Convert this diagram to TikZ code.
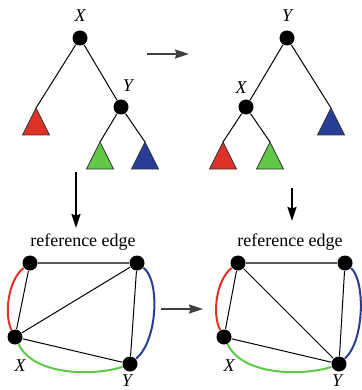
\documentclass[tikz,border=0pt]{standalone}
\usepackage{fontspec}
\setmainfont{Liberation Serif}
\usetikzlibrary{arrows.meta}
\definecolor{tred}{RGB}{222,50,38}
\definecolor{tgreen}{RGB}{96,200,72}
\definecolor{tblue}{RGB}{40,62,150}
\tikzset{
  vert/.style={circle,fill=black,inner sep=0pt,minimum size=15pt},
  lbl/.style={font=\fontsize{18}{20}\selectfont\itshape},
  subtree/.style={draw=black!80,line width=0.8pt},
  refedge/.style={draw=black!65,line width=2.2pt},
  colcurve/.style={line width=2pt},
}
\newcommand{\subtri}[2]{\filldraw[subtree,fill=#1] (#2) -- ++(-13.5,27) -- ++(27,0) -- cycle;}
\begin{document}
\begin{tikzpicture}[x=1pt,y=-1pt,line width=1pt,>={Stealth[length=14pt,width=9pt,inset=1.5pt]}]
  \useasboundingbox (0,0) rectangle (361,390);
  % tree before rotation
  \node[vert] (x1) at (80,38) {};
  \node[vert] (y1) at (121,107) {};
  \node[lbl] at (80,16) {X};
  \node[lbl] at (128,86) {Y};
  \coordinate (a1) at (36,108);
  \coordinate (b1) at (100,142);
  \coordinate (c1) at (145,142);
  \draw (x1) -- (a1);
  \draw (x1) -- (y1);
  \draw (y1) -- (b1);
  \draw (y1) -- (c1);
  \subtri{tred}{a1}
  \subtri{tgreen}{b1}
  \subtri{tblue}{c1}
  % tree after rotation
  \node[vert] (y2) at (287,38) {};
  \node[vert] (x2) at (246,107) {};
  \node[lbl] at (287,16) {Y};
  \node[lbl] at (241,88) {X};
  \coordinate (a2) at (223,142);
  \coordinate (b2) at (270,142);
  \coordinate (c2) at (331,108);
  \draw (y2) -- (x2);
  \draw (y2) -- (c2);
  \draw (x2) -- (a2);
  \draw (x2) -- (b2);
  \subtri{tred}{a2}
  \subtri{tgreen}{b2}
  \subtri{tblue}{c2}
  % arrows
  \coordinate (r1) at (147,54);
  \coordinate (r2) at (189,54);
  \draw[->,line width=1.5pt,black!75] (r1) -- (r2);
  \coordinate (d1) at (76,172);
  \coordinate (d2) at (76,228);
  \draw[->,line width=1.5pt] (d1) -- (d2);
  \coordinate (e1) at (292,188);
  \coordinate (e2) at (292,221);
  \draw[->,line width=1.5pt] (e1) -- (e2);
  \coordinate (s1) at (161,309);
  \coordinate (s2) at (203,309);
  \draw[->,line width=1.5pt,black!75] (s1) -- (s2);
  % graph before
  \node[font=\fontsize{18}{20}\selectfont] at (83,242) {reference edge};
  \node[vert] (p1) at (30,263) {};
  \node[vert] (q1) at (137,263) {};
  \node[vert] (u1) at (15,337) {};
  \node[vert] (v1) at (130,364) {};
  \node[lbl] at (20,366) {X};
  \node[lbl] at (127,381) {Y};
  \draw[colcurve,tred] (p1) .. controls (8,280) and (4,315) .. (u1);
  \draw[colcurve,tblue] (q1) .. controls (160,280) and (158,340) .. (v1);
  \draw[colcurve,tgreen] (u1) .. controls (35,378) and (100,375) .. (v1);
  \draw[refedge] (p1) -- (q1);
  \draw (p1) -- (u1);
  \draw (u1) -- (q1);
  \draw (u1) -- (v1);
  \draw (q1) -- (v1);
  % graph after
  \node[font=\fontsize{18}{20}\selectfont] at (290,242) {reference edge};
  \node[vert] (p2) at (238,263) {};
  \node[vert] (q2) at (345,263) {};
  \node[vert] (u2) at (224,337) {};
  \node[vert] (v2) at (339,364) {};
  \node[lbl] at (229,366) {X};
  \node[lbl] at (337,381) {Y};
  \draw[colcurve,tred] (p2) .. controls (216,280) and (212,315) .. (u2);
  \draw[colcurve,tblue] (q2) .. controls (365,280) and (365,340) .. (v2);
  \draw[colcurve,tgreen] (u2) .. controls (244,378) and (309,375) .. (v2);
  \draw[refedge] (p2) -- (q2);
  \draw (p2) -- (u2);
  \draw (p2) -- (v2);
  \draw (u2) -- (v2);
  \draw (q2) -- (v2);
\end{tikzpicture}
\end{document}
